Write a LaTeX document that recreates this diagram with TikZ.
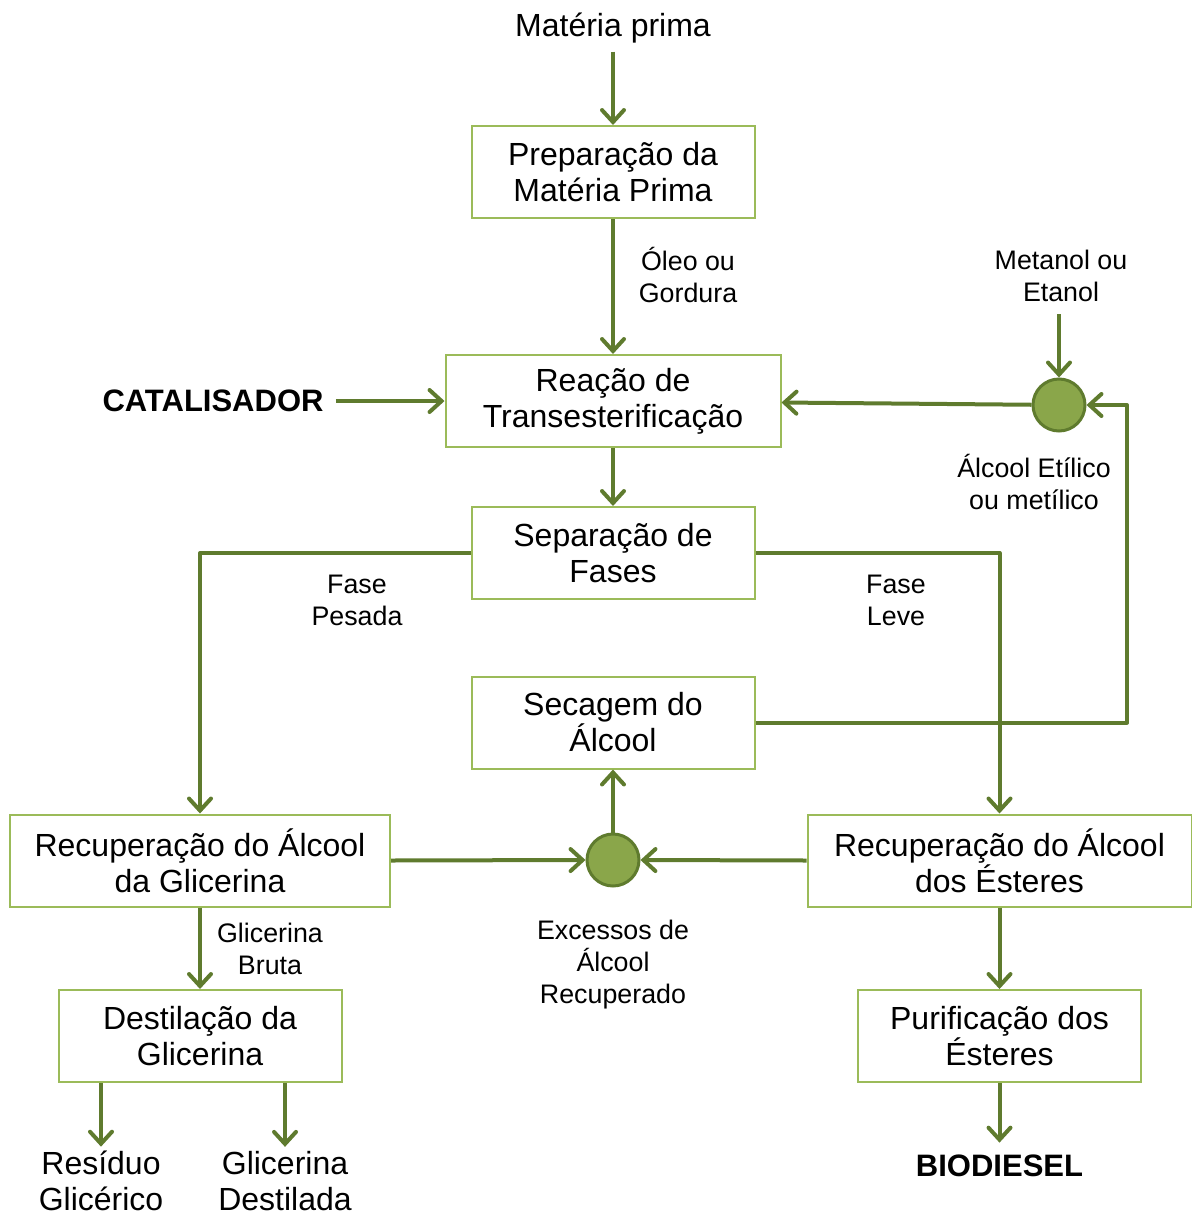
\documentclass[tikz,border=0pt]{standalone}
\usepackage{fontspec}
\setmainfont{Liberation Sans}
\usetikzlibrary{arrows.meta}
\definecolor{linha}{HTML}{5F7B2E}
\definecolor{borda}{HTML}{9BBB59}
\definecolor{bola}{HTML}{8AA64A}
\tikzstyle{caixa}=[draw=borda, line width=1pt, fill=white, minimum width=141.5pt, minimum height=46pt, align=center, font=\fontsize{16}{18}\selectfont]
\tikzstyle{rotulo}=[align=center, font=\fontsize{13.4}{16}\selectfont]
\tikzstyle{texto}=[align=center, inner sep=2pt, font=\fontsize{16}{18}\selectfont]
\tikzstyle{forte}=[align=center, inner sep=6pt, font=\fontsize{15.5}{18}\selectfont\bfseries]
\tikzstyle{bola}=[draw=linha, fill=bola, line width=1.5pt, shape=circle, minimum size=26pt, inner sep=0pt]
\tikzstyle{seta}=[draw=linha, line width=2pt, line join=round, -{Straight Barb[length=6pt, width=11pt, line cap=round]}]
\tikzstyle{linha}=[draw=linha, line width=2pt, line join=round]

\begin{document}
\begin{tikzpicture}[x=0.5pt, y=-0.5pt]
            \useasboundingbox (0,0) rectangle (1192,1216);
            \node[texto, inner sep=4pt] (materia) at (613,28) {Matéria prima};
            \node[caixa] (prep) at (613,172) {Preparação da\\Matéria Prima};
            \node[caixa, minimum width=167.5pt] (reacao) at (613,401) {Reação de\\Transesterificação};
            \node[forte] (catal) at (213,401) {CATALISADOR};
            \node[rotulo, inner sep=6pt] (metanol) at (1061,276) {Metanol ou\\Etanol};
            \node[bola] (bola1) at (1059,405) {};
            \node[caixa] (separa) at (613,553) {Separação de\\Fases};
            \node[caixa] (secagem) at (613,722.5) {Secagem do\\Álcool};
            \node[caixa, minimum width=190pt] (recglic) at (200,860.5) {Recuperação do Álcool\\da Glicerina};
            \node[caixa, minimum width=192pt] (recest) at (999.5,860.5) {Recuperação do Álcool\\dos Ésteres};
            \node[bola] (bola2) at (613,860) {};
            \node[caixa] (destil) at (200,1036) {Destilação da\\Glicerina};
            \node[caixa] (purif) at (999.5,1036) {Purificação dos\\Ésteres};
            \node[texto] (residuo) at (101,1181) {Resíduo\\Glicérico};
            \node[texto] (destilada) at (285,1181) {Glicerina\\Destilada};
            \node[forte] (biodiesel) at (999.5,1166) {BIODIESEL};
            \coordinate (canto) at (1127,722.5);
            % rotulos
            \node[rotulo] (oleo) at (688,275) {Óleo ou\\Gordura};
            \node[rotulo] (etilico) at (1034,482) {Álcool Etílico\\ou metílico};
            \node[rotulo] (pesada) at (357,600) {Fase\\Pesada};
            \node[rotulo] (leve) at (896,600) {Fase\\Leve};
            \node[rotulo] (excessos) at (613,965) {Excessos de\\Álcool\\Recuperado};
            \node[rotulo] (bruta) at (270,949) {Glicerina\\Bruta};
            % setas
            \draw[seta] (materia) -- (prep);
            \draw[seta] (prep) -- (reacao);
            \draw[seta] (catal) -- (reacao);
            \draw[seta] (metanol.south -| bola1) -- (bola1);
            \draw[seta] (bola1) -- (reacao);
            \draw[seta] (reacao) -- (separa);
            \draw[seta] (separa.west) -| (recglic.north);
            \draw[seta] (separa.east) -| (recest.north);
            \draw[seta] (secagem.east) -- (canto) |- (bola1.east);
            \draw[seta] (recglic.east) -- (bola2.west);
            \draw[seta] (recest.west) -- (bola2.east);
            \draw[seta] (bola2) -- (secagem);
            \draw[seta] (recglic) -- (destil);
            \draw[seta] (destil.south -| residuo.north) -- (residuo.north);
            \draw[seta] (destil.south -| destilada.north) -- (destilada.north);
            \draw[seta] (recest) -- (purif);
            \draw[seta] (purif) -- (biodiesel);
\end{tikzpicture}
\end{document}
